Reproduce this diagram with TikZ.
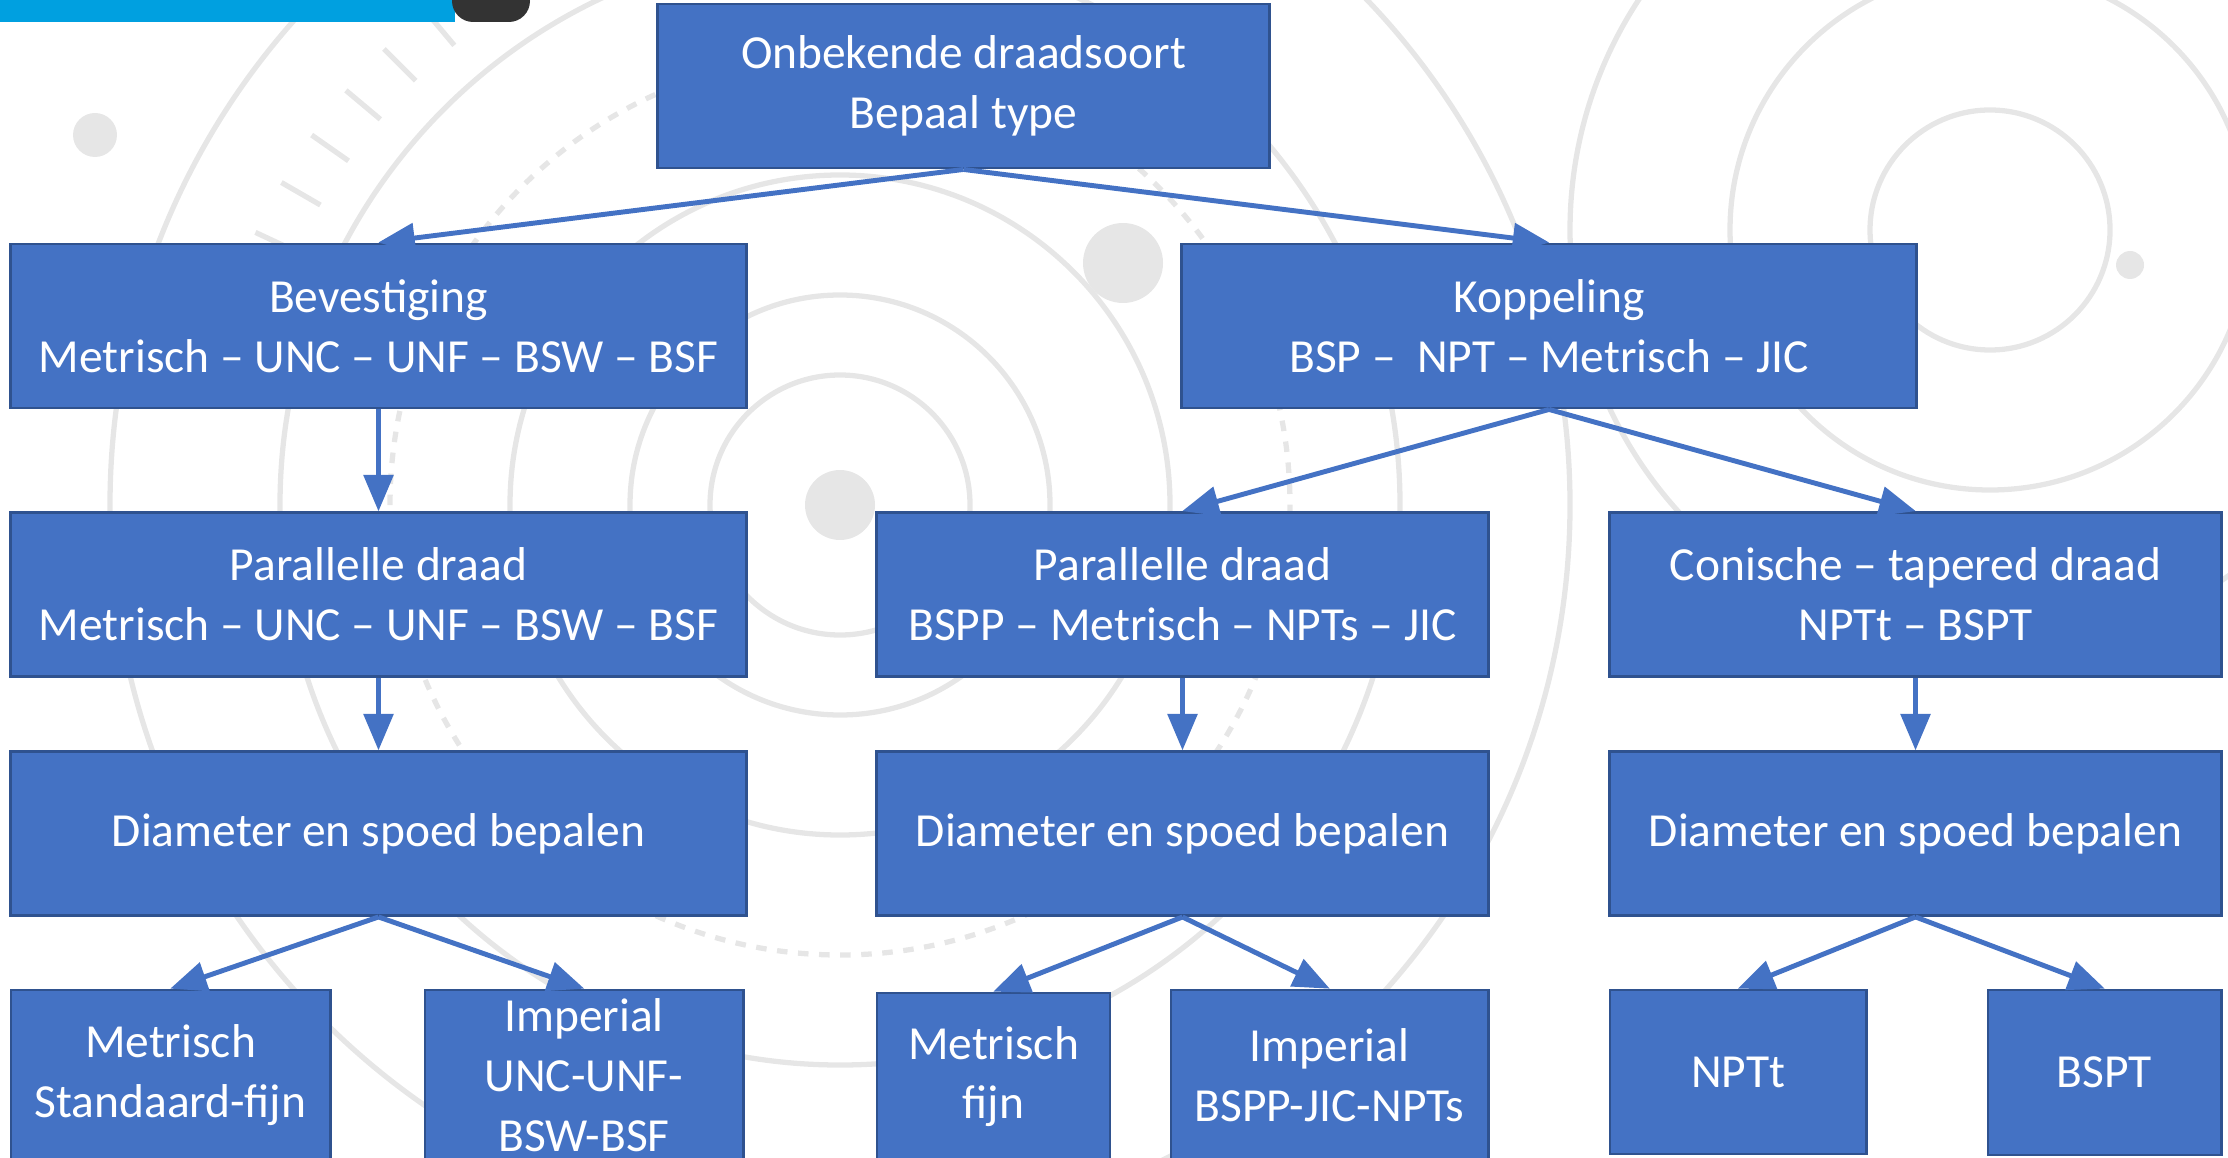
\documentclass[tikz,border=0pt]{standalone}
\usepackage{fontspec}
\setmainfont{Carlito}
\usepackage{tikz}
\usetikzlibrary{arrows}
\definecolor{boxblue}{HTML}{4472C4}
\definecolor{boxedge}{HTML}{2F528F}
\definecolor{barblue}{HTML}{00A0E0}
\definecolor{bardark}{HTML}{333333}
\definecolor{deco}{HTML}{E6E6E6}

\begin{document}
\begin{tikzpicture}[x=0.01cm, y=-0.01cm]
		\tikzstyle{box}=[draw=boxedge, fill=boxblue, text=white, line width=0.8pt, align=center, inner sep=0pt, font=\fontsize{13.5}{17}\selectfont];
		\tikzstyle{wide}=[box, minimum width=7.35cm, minimum height=1.64cm];
		\tikzstyle{mid}=[box, minimum width=6.11cm, minimum height=1.64cm];
		\tikzstyle{link}=[draw=boxblue, line width=1.4pt, -triangle 45];

		\useasboundingbox (0,0) rectangle (2228,1158);
		\clip (0,0) rectangle (2228,1158);

		% background decoration
		\begin{scope}[deco, line width=1.5pt]
			\foreach \r in {130, 210, 330, 560, 730}
				\draw (840,505) circle (\r);
			\draw[dashed] (840,505) circle (450);
			\foreach \r in {120, 260, 420}
				\draw (1990,230) circle (\r);
			\fill (840,505) circle (35);
			\fill (1123,263) circle (40);
			\fill (95,135) circle (22);
			\fill (2130,265) circle (14);
			\foreach \a in {200,205,...,300}
				\draw (840,505) ++(\a:600) -- ++(\a:45);
		\end{scope}

		% title bar
		\fill[barblue] (0,0) rectangle (455,22);
		\fill[bardark, rounded corners=6pt] (452,-20) rectangle (530,22);

		\node[mid] (soort) at (963.5,86) {Onbekende draadsoort\\Bepaal type};

		\node[wide] (bevest) at (378.5,326) {Bevestiging\\Metrisch -- UNC -- UNF -- BSW -- BSF};
		\node[wide] (koppel) at (1549,326) {Koppeling\\BSP --\ \ NPT -- Metrisch -- JIC};

		\node[wide] (parbev) at (378.5,594.5) {Parallelle draad\\Metrisch -- UNC -- UNF -- BSW -- BSF};
		\node[mid] (parkop) at (1182.5,594.5) {Parallelle draad\\BSPP -- Metrisch -- NPTs -- JIC};
		\node[mid] (conkop) at (1915.5,594.5) {Conische -- tapered draad\\NPTt -- BSPT};

		\node[wide] (diabev) at (378.5,833.5) {Diameter en spoed bepalen};
		\node[mid] (diapar) at (1182.5,833.5) {Diameter en spoed bepalen};
		\node[mid] (diacon) at (1915.5,833.5) {Diameter en spoed bepalen};

		\node[box, minimum width=3.19cm, minimum height=1.70cm] (metstd) at (170.5,1075) {Metrisch\\Standaard-fijn};
		\node[box, minimum width=3.18cm, minimum height=1.70cm] (impunc) at (584,1075) {Imperial\\UNC-UNF-\\BSW-BSF};
		\node[box, minimum width=2.33cm, minimum height=1.67cm] (metfijn) at (993.5,1076.5) {Metrisch\\fijn};
		\node[box, minimum width=3.17cm, minimum height=1.70cm] (impbspp) at (1329.5,1075) {Imperial\\BSPP-JIC-NPTs};
		\node[box, minimum width=2.56cm, minimum height=1.64cm] (nptt) at (1738,1072) {NPTt};
		\node[box, minimum width=2.33cm, minimum height=1.65cm] (bspt) at (2104.5,1072.5) {BSPT};

		\draw[link] (soort.south) -- (bevest.north);
		\draw[link] (soort.south) -- (koppel.north);
		\draw[link] (bevest.south) -- (parbev.north);
		\draw[link] (koppel.south) -- (parkop.north);
		\draw[link] (koppel.south) -- (conkop.north);
		\draw[link] (parbev.south) -- (diabev.north);
		\draw[link] (parkop.south) -- (diapar.north);
		\draw[link] (conkop.south) -- (diacon.north);
		\draw[link] (diabev.south) -- (metstd.north);
		\draw[link] (diabev.south) -- (impunc.north);
		\draw[link] (diapar.south) -- (metfijn.north);
		\draw[link] (diapar.south) -- (impbspp.north);
		\draw[link] (diacon.south) -- (nptt.north);
		\draw[link] (diacon.south) -- (bspt.north);
	\end{tikzpicture}
\end{document}
